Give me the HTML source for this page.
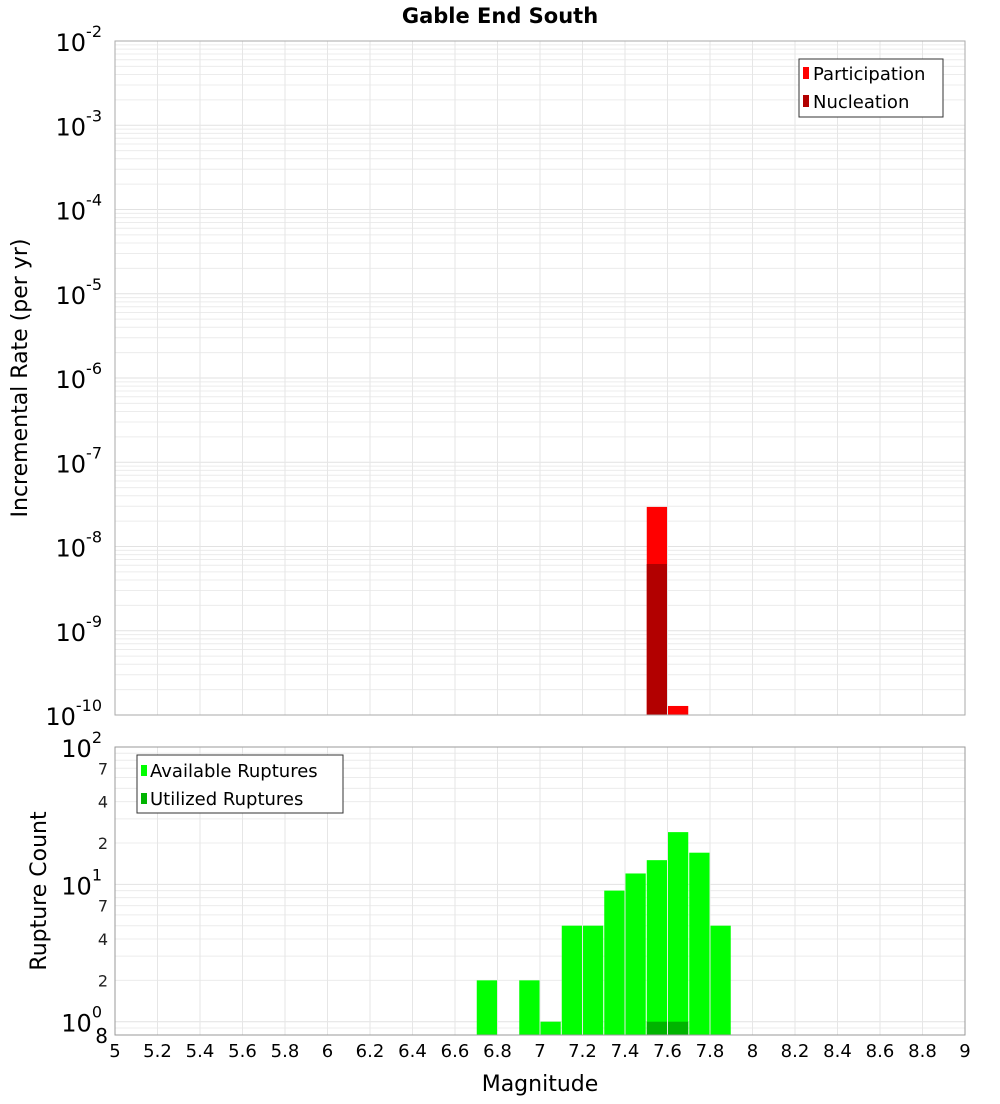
<!DOCTYPE html>
<html><head><meta charset="utf-8"><style>
body{margin:0;background:#fff;font-family:"DejaVu Sans","Liberation Sans",sans-serif}
svg text{font-family:"DejaVu Sans","Liberation Sans",sans-serif}
</style></head><body>
<svg id="chart" width="1000" height="1100" xmlns="http://www.w3.org/2000/svg">
<text x="500" y="23" text-anchor="middle" font-size="21" font-weight="bold">Gable End South</text>
<g id="topPanel"></g>
<g id="botPanel"></g>
</svg>
<script>
const partMags=[7.55,7.65];
const partRates=[2.95e-8,1.28e-10];
const nuclMags=[7.55];
const nuclRates=[6.2e-9];
const availMags=[6.75,6.95,7.05,7.15,7.25,7.35,7.45,7.55,7.65,7.75,7.85];
const availCounts=[2,2,1,5,5,9,12,15,24,17,5];
const usedMags=[7.55,7.65];
const usedCounts=[1,1];
const xTicks=[5,5.2,5.4,5.6,5.8,6,6.2,6.4,6.6,6.8,7,7.2,7.4,7.6,7.8,8,8.2,8.4,8.6,8.8,9];
const topDecades=[-2,-3,-4,-5,-6,-7,-8,-9,-10];
const botMinorLabels=[2,4,7,20,40,70];

const NS="http://www.w3.org/2000/svg";
const X0=115,X1=965;
const xs=m=>X0+(m-5)/4*(X1-X0);
function mk(p,t,a,txt){const e=document.createElementNS(NS,t);for(const k in a)e.setAttribute(k,a[k]);if(txt!==undefined)e.textContent=txt;p.appendChild(e);return e;}
const T1=41,B1=715; const yt=v=>T1+(-2-Math.log10(v))/8*(B1-T1);
const T2=747,B2=1035; const D2=(B2-T2)/(2-Math.log10(0.8)); const yb=v=>T2+(2-Math.log10(v))*D2;
const topG=document.getElementById('topPanel'),botG=document.getElementById('botPanel');

function grid(g,T,B,ys,lo,hi){
  for(let d=lo;d<hi;d++)for(let k=1;k<10;k++){const v=k*Math.pow(10,d);const y=ys(v);if(y<T-0.5||y>B+0.5)continue;
    const l=mk(g,'line',{x1:X0,x2:X1,y1:y,y2:y,stroke:k==1?'#e2e2e2':'#ececec','stroke-width':1});
    
    }
  xTicks.forEach(t=>{const l=mk(g,'line',{x1:xs(t),x2:xs(t),y1:T,y2:B,stroke:'#e6e6e6'});
    
    });
}
grid(topG,T1,B1,yt,-10,-1);
grid(botG,T2,B2,yb,-1,3);
const w=(X1-X0)/40;
function bar(g,m,v,ys,B,fill,name){const y=ys(v);const r=mk(g,'rect',{x:xs(m)-w/2+0.5,y:y,width:w-1,height:B-y,fill:fill});
  
  }
partMags.forEach((m,i)=>bar(topG,m,partRates[i],yt,B1,'#ff0000','participation-bar'));
nuclMags.forEach((m,i)=>bar(topG,m,nuclRates[i],yt,B1,'#b20000','nucleation-bar'));
availMags.forEach((m,i)=>bar(botG,m,availCounts[i],yb,B2,'#00ff00','available-bar'));
usedMags.forEach((m,i)=>bar(botG,m,usedCounts[i],yb,B2,'#00b400','utilized-bar'));
mk(topG,'rect',{x:X0,y:T1,width:X1-X0,height:B1-T1,fill:'none',stroke:'#aaa'});
mk(botG,'rect',{x:X0,y:T2,width:X1-X0,height:B2-T2,fill:'none',stroke:'#999'});
topDecades.forEach(d=>{const y=yt(Math.pow(10,d));const t=mk(topG,'text',{x:102,y:y+10,'text-anchor':'end','font-size':24});
  
  
  t.textContent='10';mk(t,'tspan',{dy:-14,'font-size':16},String(d));});
[[100,'2'],[10,'1'],[1,'0']].forEach(([v,e])=>{const y=yb(v);const t=mk(botG,'text',{x:102,y:y+10,'text-anchor':'end','font-size':24},'10');
  
  
  mk(t,'tspan',{dy:-14,'font-size':16},e);});
botMinorLabels.forEach(v=>{const t=mk(botG,'text',{x:108,y:yb(v)+6,'text-anchor':'end','font-size':16,fill:'#222'},String(v).charAt(0));
  
  });
{const t=mk(botG,'text',{x:108,y:yb(0.8)+8,'text-anchor':'end','font-size':20},'8');

}
xTicks.forEach(t=>{const e=mk(botG,'text',{x:xs(t),y:1057,'text-anchor':'middle','font-size':18},String(t));
  
  });
</script>
<svg style="position:absolute;left:0;top:0" width="1000" height="1100" xmlns="http://www.w3.org/2000/svg">
<text x="540" y="1091" text-anchor="middle" font-size="22">Magnitude</text>
<text transform="translate(27,378) rotate(-90)" text-anchor="middle" font-size="22">Incremental Rate (per yr)</text>
<text transform="translate(46,891) rotate(-90)" text-anchor="middle" font-size="22">Rupture Count</text>
<g>
<rect x="799" y="59" width="144" height="58" fill="#fff" stroke="#333"/>
<rect x="803" y="67" width="6" height="12" fill="#ff0000"/>
<text x="813" y="80" font-size="18">Participation</text>
<rect x="803" y="95" width="6" height="12" fill="#b20000"/>
<text x="813" y="108" font-size="18">Nucleation</text>
</g>
<g>
<rect x="137" y="755" width="206" height="58" fill="#fff" stroke="#333"/>
<rect x="141" y="765" width="6" height="11" fill="#00ff00"/>
<text x="150" y="777" font-size="18">Available Ruptures</text>
<rect x="141" y="793" width="6" height="11" fill="#00b400"/>
<text x="150" y="805" font-size="18">Utilized Ruptures</text>
</g>
</svg>
</body></html>
